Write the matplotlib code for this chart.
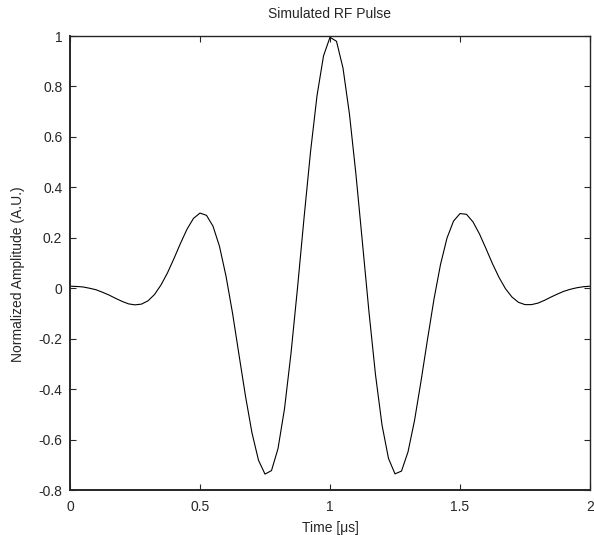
import matplotlib
matplotlib.use('Agg')
import matplotlib.pyplot as plt
import numpy as np
from matplotlib.ticker import FormatStrFormatter

# Time axis (us), one sample every 0.025 us
time_us = np.arange(81) * 0.025

# Normalized amplitude
amplitude = [
    0.008, 0.007, 0.005, 0.000, -0.006, -0.016, -0.027, -0.040, -0.052, -0.062,
    -0.066, -0.063, -0.050, -0.025, 0.013, 0.061, 0.118, 0.178, 0.234, 0.277,
    0.298, 0.289, 0.246, 0.166, 0.048, -0.098, -0.264, -0.428, -0.574, -0.682,
    -0.737, -0.723, -0.636, -0.478, -0.258, 0.001, 0.277, 0.540, 0.763, 0.921,
    0.995, 0.979, 0.873, 0.689, 0.449, 0.178, -0.095, -0.343, -0.542, -0.675,
    -0.736, -0.725, -0.649, -0.525, -0.369, -0.203, -0.043, 0.094, 0.199, 0.266,
    0.296, 0.293, 0.263, 0.215, 0.157, 0.097, 0.043, -0.002, -0.035, -0.056,
    -0.065, -0.065, -0.059, -0.048, -0.035, -0.023, -0.012, -0.004, 0.002, 0.006,
    0.008,
]

x_ticks = [0, 0.5, 1, 1.5, 2]
y_ticks = [-0.8, -0.6, -0.4, -0.2, 0, 0.2, 0.4, 0.6, 0.8, 1]

plt.rcParams.update({
    'font.family': ['Liberation Sans', 'DejaVu Sans'],
    'font.size': 10,
    'axes.unicode_minus': False,
})

fig = plt.figure(figsize=(5.94, 5.35), dpi=100)
ax = fig.add_axes([70 / 594, 1 - 490 / 535, 520 / 594, 454 / 535])

ax.plot(time_us, amplitude, color='black', linewidth=0.8)

ax.set_xlim(0, 2)
ax.set_ylim(-0.8, 1)
ax.set_xticks(x_ticks)
ax.set_yticks(y_ticks)
ax.xaxis.set_major_formatter(FormatStrFormatter('%g'))
ax.yaxis.set_major_formatter(FormatStrFormatter('%g'))
ax.tick_params(direction='in', top=True, right=True, length=4, width=0.8,
               labelsize=10, colors='#262626')
ax.tick_params(axis='x', pad=7)
ax.tick_params(axis='y', pad=5.5)

for side in ['left', 'bottom']:
    ax.spines[side].set_linewidth(1.4)
for side in ['top', 'right']:
    ax.spines[side].set_linewidth(1.0)
for s in ax.spines.values():
    s.set_color('#262626')

ax.set_title('Simulated RF Pulse', fontsize=10, color='#262626', pad=13)
ax.set_xlabel('Time [\u03bcs]', fontsize=10, color='#262626', labelpad=5)
ax.set_ylabel('Normalized Amplitude (A.U.)', fontsize=10, color='#262626')
ax.yaxis.set_label_coords(-0.086, 0.476)

fig.savefig('out.png', dpi=100)
